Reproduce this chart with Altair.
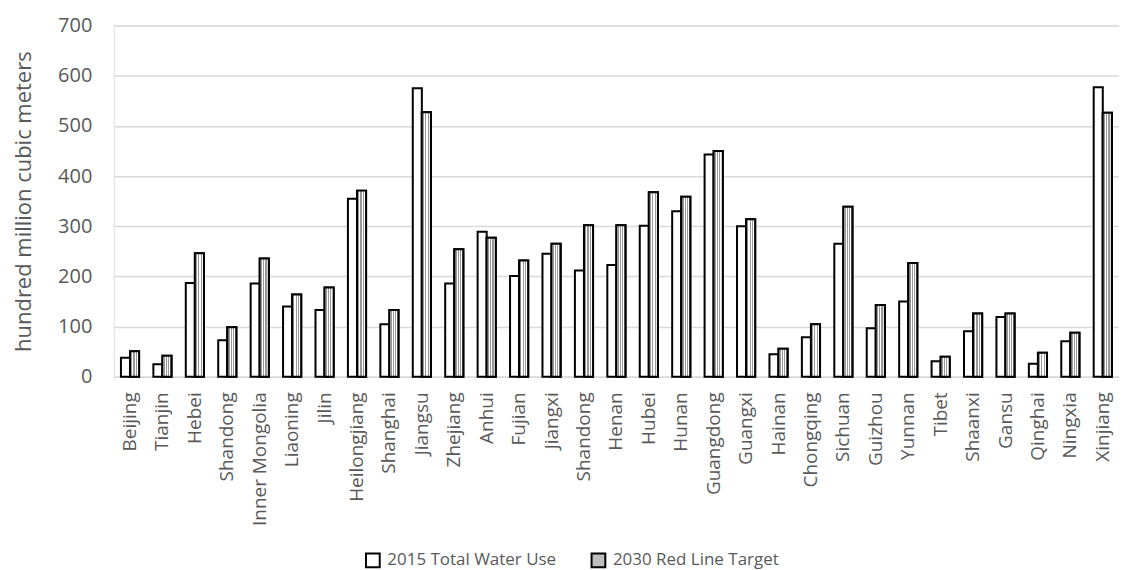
import altair as alt
import pandas as pd

provinces = ["Beijing", "Tianjin", "Hebei", "Shandong", "Inner Mongolia", "Liaoning", "Jilin",
             "Heilongjiang", "Shanghai", "Jiangsu", "Zhejiang", "Anhui", "Fujian", "Jiangxi",
             "Shandong", "Henan", "Hubei", "Hunan", "Guangdong", "Guangxi", "Hainan", "Chongqing",
             "Sichuan", "Guizhou", "Yunnan", "Tibet", "Shaanxi", "Gansu", "Qinghai", "Ningxia", "Xinjiang"]
use_2015 = [38, 25, 187, 73, 186, 140, 133, 355, 105, 575, 186, 289, 201, 245, 212, 223, 301, 330,
            443, 300, 45, 79, 265, 97, 150, 31, 91, 119, 26, 71, 577]
target_2030 = [51, 42, 246, 99, 236, 164, 178, 371, 133, 527, 254, 277, 232, 265, 302, 302, 368, 359,
               450, 314, 56, 105, 339, 143, 227, 40, 126, 126, 48, 88, 526]
series = ["2015 Total Water Use", "2030 Red Line Target"]

rows = []
for i, name in enumerate(provinces):
    rows.append({"idx": i, "series": series[0], "value": use_2015[i]})
    rows.append({"idx": i, "series": series[1], "value": target_2030[i]})
df = pd.DataFrame(rows)

label_expr = "[" + ",".join("'" + p + "'" for p in provinces) + "][datum.value]"

FONT = "Open Sans"
GREY = "#595959"

# striped fill to imitate hatching
stops = []
n = 4
for k in range(n):
    a = k / n
    b = a + 0.5 / n
    c = (k + 1) / n
    stops += [alt.GradientStop(offset=a, color="#ffffff"), alt.GradientStop(offset=b, color="#ffffff"),
              alt.GradientStop(offset=b, color="#999999"), alt.GradientStop(offset=c, color="#999999")]
hatch = alt.Gradient(gradient="linear", stops=stops, x1=0, x2=1, y1=0, y2=0)

x_enc = alt.X("idx:O", title=None,
              scale=alt.Scale(paddingInner=0.44, paddingOuter=0.22),
              axis=alt.Axis(labelExpr=label_expr, labelAngle=-90, labelFont=FONT, labelFontSize=19,
                            labelColor=GREY, labelPadding=15, ticks=False, domainColor="#d9d9d9",
                            domainWidth=1.5, labelAlign="right", labelBaseline="middle"))
y_enc = alt.Y("value:Q", title="hundred million cubic meters",
              scale=alt.Scale(domain=[0, 700]),
              axis=alt.Axis(values=[0, 100, 200, 300, 400, 500, 600, 700], labelFont=FONT,
                            labelFontSize=20, labelColor=GREY, titleFont=FONT, titleFontSize=22,
                            titleColor=GREY, titleFontWeight="normal", ticks=False, domain=False,
                            gridColor="#d9d9d9", gridWidth=1.5, labelPadding=22, titlePadding=22))
xoff = alt.XOffset("series:N", scale=alt.Scale(domain=series, paddingInner=0, paddingOuter=0))

base = alt.Chart(df).mark_bar(stroke="black", strokeWidth=2).encode(
    x=x_enc, y=y_enc, xOffset=xoff,
    fill=alt.Fill("series:N", scale=alt.Scale(domain=series, range=["#ffffff", "#bdbdbd"]),
                  legend=alt.Legend(title=None, orient="none", direction="horizontal",
                                    legendX=251, legendY=527, symbolType="square", symbolSize=190,
                                    symbolStrokeColor="black", symbolStrokeWidth=2,
                                    labelFont=FONT, labelFontSize=17, labelColor=GREY, labelLimit=0,
                                    columnPadding=30, symbolOpacity=1, labelOffset=6)),
)

overlay = alt.Chart(df).transform_filter(alt.datum.series == series[1]).mark_bar(
    stroke="black", strokeWidth=2, fill=hatch).encode(x=x_enc, y=y_enc, xOffset=xoff)

chart = alt.layer(base, overlay).properties(
    width=1007, height=352,
    padding={"left": 4, "top": 7, "right": 0, "bottom": 5},
).configure_view(stroke=None).configure(background="white")

chart.save("out.html", embed_options={"renderer": "svg", "actions": False})
